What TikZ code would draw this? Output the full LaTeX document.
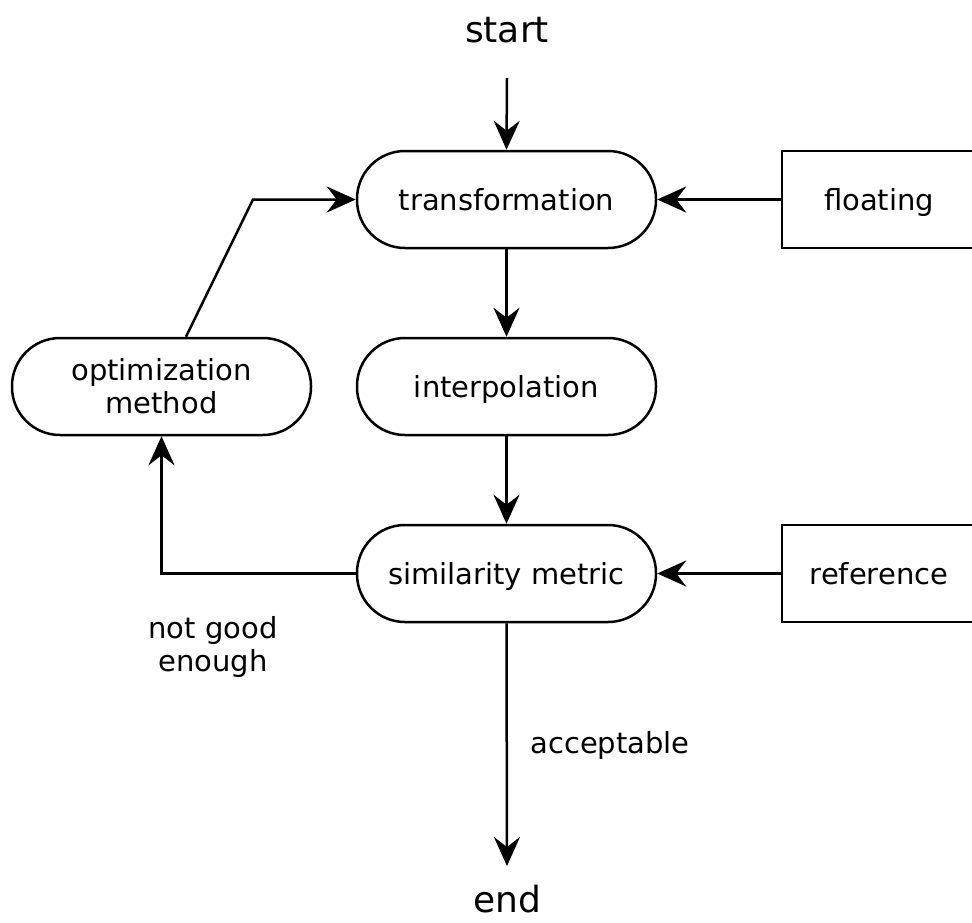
\documentclass[tikz,border=0pt]{standalone}
\usepackage{fontspec}
\setmainfont{DejaVu Sans}
\usetikzlibrary{arrows.meta}

\tikzset{
  pill/.style={draw, rectangle, rounded corners=48pt, minimum width=299pt, minimum height=97pt, inner sep=0pt, align=center},
  box/.style={draw, rectangle, minimum width=194pt, minimum height=97pt, inner sep=0pt},
  oneline/.style={text height=22pt, text depth=0pt},
  arr/.style={-{Stealth[length=29pt,width=26pt,inset=10pt]}}
}

\begin{document}
\begin{tikzpicture}[x=1pt,y=-1pt,line width=2.5pt,font=\fontsize{29}{33}\selectfont]
\useasboundingbox (0,0) rectangle (972,922);
\clip (0,0) rectangle (972,922);

\node (v1) at (507,30) {\fontsize{36}{40}\selectfont start};
\node [pill,oneline] (v2) at (506.5,199.5) {transformation};
\node [pill,oneline] (v3) at (506.5,386.5) {interpolation};
\node [pill,oneline] (v4) at (506.5,573.5) {similarity metric};
\node [pill] (v5) at (161.5,386.5) {optimization\\method};
\node [box,oneline] (v6) at (879,199.5) {floating};
\node [box,oneline] (v7) at (879,573.5) {reference};
\node (v8) at (507,899.5) {\fontsize{36}{40}\selectfont end};
\node [align=center] (v9) at (213,647) {not good\\ enough};
\node (v10) at (610,745) {acceptable};

\coordinate (c1) at (507,78);
\coordinate (c2) at (507,866);
\coordinate (c3) at (253,199.5);

\draw [arr] (c1) -- (v2.north);
\draw [arr] (v2.south) -- (v3.north);
\draw [arr] (v3.south) -- (v4.north);
\draw [arr] (v4.south) -- (c2);
\draw [arr] (v6.west) -- (v2.east);
\draw [arr] (v7.west) -- (v4.east);
\draw [arr] (v4.west) -| (v5.south);
\draw [arr] ([xshift=24.5pt]v5.north) -- (c3) -- (v2.west);
\end{tikzpicture}
\end{document}
